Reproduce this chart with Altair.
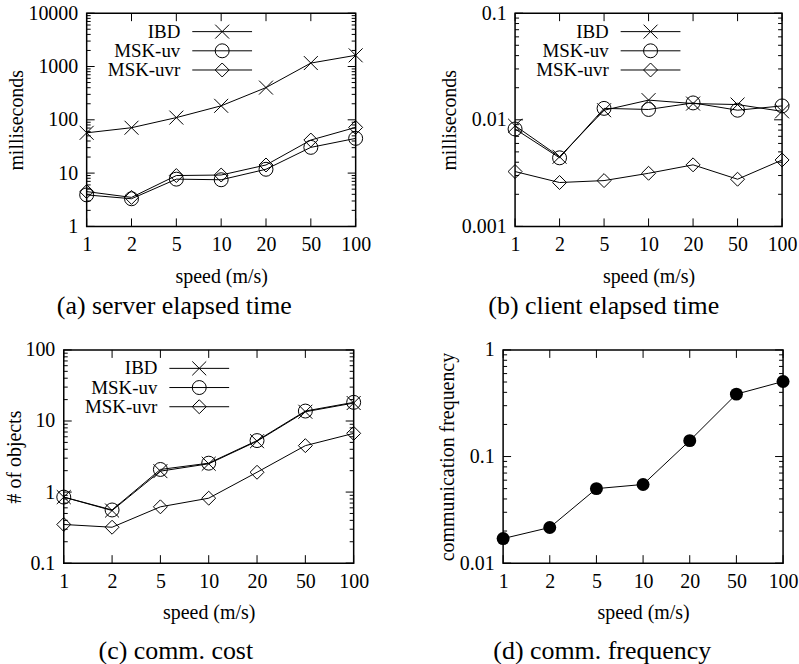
import altair as alt
import pandas as pd

# ---------------- data ----------------
speeds = ["1", "2", "5", "10", "20", "50", "100"]
series_names = ["IBD", "MSK-uv", "MSK-uvr"]
legend_rows = [0, 1, 2]

a_ibd = [57, 71, 110, 183, 402, 1160, 1620]
a_uv = [3.9, 3.3, 7.7, 7.5, 11.8, 30.4, 44.8]
a_uvr = [4.5, 3.5, 9.0, 9.2, 14.2, 41.7, 72]

b_ibd = [0.0088, 0.0045, 0.0123, 0.0153, 0.0142, 0.0139, 0.0120]
b_uv = [0.0082, 0.0044, 0.0128, 0.0125, 0.0144, 0.0123, 0.0135]
b_uvr = [0.00327, 0.00258, 0.00269, 0.00315, 0.00378, 0.00277, 0.0042]

c_ibd = [0.85, 0.55, 1.97, 2.5, 5.2, 13.5, 17.9]
c_uv = [0.85, 0.56, 2.08, 2.55, 5.3, 13.8, 18.3]
c_uvr = [0.35, 0.32, 0.62, 0.82, 1.9, 4.5, 6.7]

d_freq = [0.017, 0.0216, 0.050, 0.0547, 0.141, 0.385, 0.506]

a_decades = [1, 10, 100, 1000, 10000]
b_decades = [0.001, 0.01, 0.1]
c_decades = [0.1, 1, 10, 100]
d_decades = [0.01, 0.1, 1]

captions = ["(a) server elapsed time", "(b) client elapsed time",
            "(c) comm. cost", "(d) comm. frequency"]

FONT = "Liberation Serif"
CROSS = "M-1,-1L1,1M-1,1L1,-1"
shape_range = [CROSS, "circle", "diamond"]
FS = 20
LEG_FS = 19


def long_df(cols):
    rows = []
    for name, vals in zip(series_names, cols):
        for s, v in zip(speeds, vals):
            rows.append({"series": name, "speed": s, "value": v})
    return pd.DataFrame(rows)


def minor_ticks(decades):
    out = []
    for d in decades[:-1]:
        for m in range(2, 10):
            out.append(round(d * m, 10))
    return out


def panel(df, decades, W, H, ytitle, caption, dx, legend=True, filled=False,
          tpad=1, cap_offset=7):
    dom = [decades[0], decades[-1]]
    yaxis = alt.Axis(values=decades, labelExpr="'' + datum.value",
                     labelFont=FONT, titleFont=FONT,
                     labelFontSize=FS, labelPadding=9, labelOverlap=False,
                     labelFlush=False, labelBound=False,
                     titleFontSize=FS, titlePadding=tpad,
                     titleFontWeight="normal")
    xaxis = alt.Axis(labelAngle=0, labelFont=FONT, titleFont=FONT,
                     labelFontSize=FS, labelPadding=8,
                     labelOverlap=False, labelFlush=False,
                     titleFontSize=FS, titlePadding=12,
                     titleFontWeight="normal")

    def Y():
        return alt.Y("value:Q", scale=alt.Scale(type="log", domain=dom),
                     axis=yaxis, title=ytitle)

    def X():
        return alt.X("speed:N", sort=speeds,
                     scale=alt.Scale(type="point", domain=speeds, padding=0),
                     axis=xaxis, title="speed (m/s)")

    base = alt.Chart(df)
    line = base.mark_line(color="black", strokeWidth=1).encode(
        x=X(), y=Y(), detail="series:N")
    if filled:
        pts = base.mark_point(filled=True, color="black", size=169,
                              shape="circle", opacity=1).encode(x=X(), y=Y())
    else:
        pts = base.mark_point(filled=False, color="black", size=196,
                              strokeWidth=1, opacity=1).encode(
            x=X(), y=Y(),
            shape=alt.Shape("series:N", scale=alt.Scale(domain=series_names,
                                                        range=shape_range),
                            legend=None))

    major_df = pd.DataFrame({"value": decades})
    minor_df = pd.DataFrame({"value": minor_ticks(decades)})
    xt_df = pd.DataFrame({"speed": speeds})
    tick_layers = []
    for tdf, ln in ((major_df, 8), (minor_df, 4)):
        tick_layers.append(alt.Chart(tdf).mark_rule(color="black", strokeWidth=1).encode(
            y=Y(), x=alt.value(0), x2=alt.value(ln)))
        tick_layers.append(alt.Chart(tdf).mark_rule(color="black", strokeWidth=1).encode(
            y=Y(), x=alt.value(W), x2=alt.value(W - ln)))
    tick_layers.append(alt.Chart(xt_df).mark_rule(color="black", strokeWidth=1).encode(
        x=X(), y=alt.value(H), y2=alt.value(H - 8)))
    tick_layers.append(alt.Chart(xt_df).mark_rule(color="black", strokeWidth=1).encode(
        x=X(), y=alt.value(0), y2=alt.value(8)))

    main = alt.layer(line, pts, *tick_layers)

    title = alt.TitleParams(text=caption, orient="bottom", anchor="middle",
                            frame="group", dx=dx, offset=cap_offset, font=FONT,
                            fontSize=26, fontWeight="normal", color="black")

    if legend:
        leg_df = pd.DataFrame({"series": series_names, "row": legend_rows})
        LY = alt.Y("row:Q", scale=alt.Scale(domain=[0, 2], range=[18.5, 57]),
                   axis=None)
        lb = alt.Chart(leg_df)
        ltext = lb.mark_text(align="right", baseline="middle", font=FONT,
                             fontSize=LEG_FS, color="black").encode(
            y=LY, x=alt.value(94), text="series:N")
        lrule = lb.mark_rule(color="black", strokeWidth=1).encode(
            y=LY, x=alt.value(106), x2=alt.value(166))
        lpt = lb.mark_point(filled=False, color="black", size=196,
                            strokeWidth=1, opacity=1).encode(
            y=LY, x=alt.value(136),
            shape=alt.Shape("series:N", scale=alt.Scale(domain=series_names,
                                                        range=shape_range),
                            legend=None))
        leg = alt.layer(ltext, lrule, lpt)
        ch = alt.layer(main, leg).resolve_scale(y="independent")
    else:
        ch = main
    return ch.properties(width=W, height=H, title=title,
                         view=alt.ViewBackground(stroke="black", strokeWidth=1.5))


pa = panel(long_df([a_ibd, a_uv, a_uvr]), a_decades, 270, 214, "milliseconds",
           captions[0], -47)
pb = panel(long_df([b_ibd, b_uv, b_uvr]), b_decades, 268, 214, "milliseconds",
           captions[1], -45, tpad=2)
pc = panel(long_df([c_ibd, c_uv, c_uvr]), c_decades, 291, 214, "# of objects",
           captions[2], -33, tpad=0, cap_offset=15)
d_df = pd.DataFrame({"series": "freq", "speed": speeds, "value": d_freq})
pd_ = panel(d_df, d_decades, 281, 214, "communication frequency",
            captions[3], -41, legend=False, filled=True, tpad=2, cap_offset=15)

# invisible spacer that shifts the top row to the right of the bottom row
spacer = alt.Chart(pd.DataFrame({"s": [0]})).mark_point(opacity=0).encode(
    x=alt.value(0), y=alt.value(0)
).properties(width=23, height=10,
             view=alt.ViewBackground(stroke="transparent"))

row1 = alt.hconcat(spacer, alt.hconcat(pa, pb, spacing=67),
                   spacing=0, bounds="flush")
row2 = alt.hconcat(pc, pd_, spacing=67)

chart = alt.vconcat(row1, row2, spacing=19).properties(
    padding={"left": 4, "top": 1, "right": 0, "bottom": 0},
    background="white",
).configure(
    font=FONT
).configure_view(
    stroke="transparent"
).configure_title(
    font=FONT
).configure_axis(
    labelFont=FONT, titleFont=FONT, labelColor="black", titleColor="black",
    titleFontWeight="normal", grid=False, domain=False, ticks=False,
)

chart.save("out.html", embed_options={"renderer": "svg", "actions": False})
